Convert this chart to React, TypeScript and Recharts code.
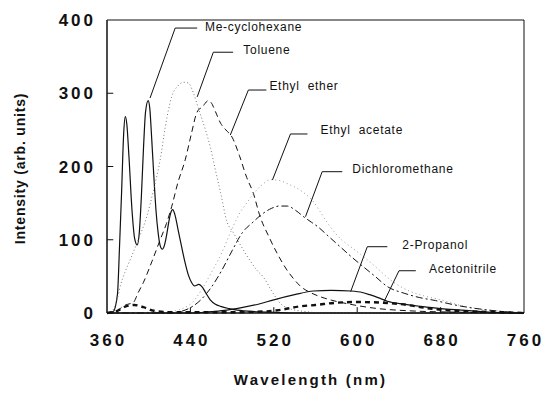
import { LineChart, Line, XAxis, YAxis, ReferenceLine, ReferenceArea, ReferenceDot } from "recharts";

const X_TICKS = [360, 440, 520, 600, 680, 760];
const Y_TICKS = [0, 100, 200, 300, 400];

// [wavelength nm, intensity]
const ME_CYCLOHEXANE: [number, number][] = [
  [360, 0], [366, 2], [370, 25], [372, 90], [374, 165], [376, 245], [377.5, 268], [379, 258],
  [381, 215], [384, 140], [386.5, 102], [389, 93], [391, 110], [393, 160], [395, 225], [397, 275],
  [399.5, 290], [401, 280], [403, 235], [405, 185], [407, 140], [409, 110], [411, 92], [413, 87],
  [415, 92], [417, 105], [419, 122], [421, 136], [423, 141], [425, 135], [428, 115], [431.5, 91],
  [435, 68], [438, 52], [441, 42], [444, 37], [448, 39], [451, 36], [455, 27], [459, 18],
  [464, 12], [469, 9], [477, 6], [485, 4], [500, 2], [520, 1], [540, 0], [760, 0],
];

const TOLUENE: [number, number][] = [
  [360, 0], [365, 3], [370, 20], [373, 38], [377, 55], [382, 72], [390, 100], [398, 131],
  [405, 170], [411, 209], [416, 255], [422, 295], [428, 310], [433, 315], [438, 314], [443, 300],
  [448, 278], [454, 252], [459, 227], [464, 195], [469, 164], [475, 125], [481, 110], [490, 88],
  [497, 72], [504, 58], [510, 49], [518, 30], [525, 15], [535, 6], [550, 2], [570, 0], [760, 0],
];

const ETHYL_ETHER: [number, number][] = [
  [360, 0], [370, 3], [375, 9], [380, 12], [385, 14], [390, 28], [395, 42], [403, 70],
  [411, 100], [417, 122], [422, 145], [428, 178], [435, 209], [441, 245], [446, 273], [449, 279],
  [451, 280], [454, 286], [457, 290], [460, 287], [464, 275], [469, 259], [474, 250], [480, 240],
  [487, 215], [494, 185], [500, 165], [507, 131], [515, 105], [523, 82], [532, 60], [540, 45],
  [546, 36], [555, 28], [565, 22], [574, 18], [593, 12], [620, 6], [650, 3], [700, 1], [760, 0],
];

const ETHYL_ACETATE: [number, number][] = [
  [360, 0], [420, 2], [440, 12], [450, 30], [460, 55], [470, 82], [480, 115], [488, 138],
  [494, 150], [500, 162], [508, 174], [517, 182], [525, 181], [534, 176], [540, 172], [548, 165],
  [558, 152], [566, 135], [574, 118], [585, 100], [596, 88], [606, 77], [620, 60], [632, 45],
  [650, 30], [665, 23], [680, 18], [700, 10], [720, 5], [740, 2], [760, 0],
];

const DICHLOROMETHANE: [number, number][] = [
  [360, 0], [420, 0], [435, 4], [450, 18], [460, 35], [470, 58], [480, 85], [490, 110],
  [500, 124], [507, 133], [518, 143], [525, 146], [533, 146], [541, 140], [549, 131], [556, 124],
  [562, 118], [573, 104], [584, 90], [595, 76], [606, 63], [618, 49], [629, 36], [645, 27],
  [660, 21], [675, 17], [687, 13], [705, 8], [720, 5], [740, 2], [760, 0],
];

const PROPANOL: [number, number][] = [
  [360, 0], [440, 0], [460, 2], [475, 4], [488, 7], [505, 12], [520, 18], [540, 25],
  [558, 30], [575, 31], [594, 30], [605, 28], [612, 25], [620, 21], [629, 16], [645, 12],
  [661, 9], [680, 6], [700, 4], [730, 1], [760, 0],
];

const ACETONITRILE: [number, number][] = [
  [360, 0], [370, 3], [378, 9], [386, 11], [395, 8], [405, 3], [420, 1], [480, 1],
  [510, 2], [525, 4], [545, 9], [560, 11], [580, 14], [600, 15], [625, 14], [648, 11],
  [665, 7], [683, 4], [710, 2], [740, 1], [760, 0],
];

// leader annotations, in data units: elbow x, horizontal end x, y, tip, text position
const LABELS = [
  { text: "Me-cyclohexane", hx1: 425.4, hx2: 446.5, hy: 389, px: 401.3, py: 293.5, tx: 454, ty: 390 },
  { text: "Toluene", hx1: 462, hx2: 481, hy: 356, px: 446.5, py: 295, tx: 490.8, ty: 359 },
  { text: "Ethyl  ether", hx1: 495.6, hx2: 512.9, hy: 304.4, px: 478.3, py: 243, tx: 515.8, ty: 310 },
  { text: "Ethyl  acetate", hx1: 536, hx2: 552.3, hy: 244.4, px: 518.7, py: 181.6, tx: 564.8, ty: 250 },
  { text: "Dichloromethane", hx1: 566.4, hx2: 585.7, hy: 192.9, px: 550.4, py: 131.5, tx: 595.3, ty: 196 },
  { text: "2-Propanol", hx1: 609.7, hx2: 628.9, hy: 90.5, px: 593.7, py: 29.1, tx: 643.3, ty: 92.5 },
  { text: "Acetonitrile", hx1: 640.1, hx2: 656.2, hy: 57.7, px: 625.7, py: 15.4, tx: 668.9, ty: 60.5 },
];

const toPts = (arr: [number, number][]) => arr.map(([x, y]) => ({ x, y }));

const SERIES = [
  { name: "Me-cyclohexane", data: ME_CYCLOHEXANE, color: "#111", width: 1.2, dash: undefined },
  { name: "Toluene", data: TOLUENE, color: "#777", width: 1, dash: "1 2.5" },
  { name: "Ethyl ether", data: ETHYL_ETHER, color: "#111", width: 1, dash: "6 4" },
  { name: "Ethyl acetate", data: ETHYL_ACETATE, color: "#999", width: 1, dash: "1 3" },
  { name: "Dichloromethane", data: DICHLOROMETHANE, color: "#111", width: 1, dash: "7 3 2 3" },
  { name: "2-Propanol", data: PROPANOL, color: "#111", width: 1.2, dash: undefined },
  { name: "Acetonitrile", data: ACETONITRILE, color: "#111", width: 2.4, dash: "5 4" },
];

const FONT = "'Liberation Sans', Arial, sans-serif";

const XTick = (props: any) => (
  <text x={props.x + 1.5} y={props.y + 31} textAnchor="middle" fontFamily={FONT} fontWeight="bold"
    fontSize={17} letterSpacing={3} fill="#111">
    {props.payload.value}
  </text>
);

const YTick = (props: any) => (
  <text x={props.x + 3} y={props.y + 6} textAnchor="end" fontFamily={FONT} fontWeight="bold"
    fontSize={17} letterSpacing={3} fill="#111">
    {props.payload.value}
  </text>
);

export default function App() {
  return (
    <div style={{ position: "absolute", left: 0, top: 0, background: "#fff" }}>
      <LineChart width={544} height={393} margin={{ top: 20, right: 20, bottom: 40, left: 7 }}>
        <XAxis dataKey="x" type="number" domain={[360, 760]} ticks={X_TICKS} tickLine={false}
          tickSize={0} axisLine={{ stroke: "#111" }} tick={<XTick />} height={40}
          label={{
            content: ({ viewBox }: any) => (
              <text x={viewBox.x + viewBox.width / 2 - 5} y={viewBox.y + 72} textAnchor="middle"
                fontFamily={FONT} fontWeight="bold" fontSize={15} letterSpacing={2.2} fill="#111">
                Wavelength  (nm)
              </text>
            ),
          }} />
        <YAxis type="number" domain={[0, 400]} ticks={Y_TICKS} tickLine={false} tickSize={0}
          tickMargin={14} axisLine={{ stroke: "#111" }} tick={<YTick />} width={100}
          label={{
            content: ({ viewBox }: any) => {
              const cx = viewBox.x + 13;
              const cy = viewBox.y + viewBox.height / 2 + 2;
              return (
                <text x={cx} y={cy} transform={`rotate(-90 ${cx} ${cy})`} textAnchor="middle"
                  dominantBaseline="central" fontFamily={FONT} fontWeight="bold" fontSize={14}
                  letterSpacing={0.8} fill="#111">
                  Intensity  (arb.  units)
                </text>
              );
            },
          }} />
        <ReferenceArea x1={360} x2={760} y1={0} y2={400} fill="none" stroke="#111" strokeWidth={1} />
        {X_TICKS.slice(1, -1).map((t) => (
          <ReferenceLine key={"xt" + t} segment={[{ x: t, y: 0 }, { x: t, y: 8 }]} stroke="#111" />
        ))}
        {Y_TICKS.slice(1, -1).map((t) => (
          <ReferenceLine key={"yt" + t} segment={[{ x: 360, y: t }, { x: 366, y: t }]} stroke="#111" />
        ))}
        {SERIES.map((s) => (
          <Line key={s.name} data={toPts(s.data)} dataKey="y" type="monotone" stroke={s.color}
            strokeWidth={s.width} strokeDasharray={s.dash} dot={false} activeDot={false}
            isAnimationActive={false} />
        ))}
        {LABELS.map((l) => (
          <ReferenceLine key={"h" + l.text} segment={[{ x: l.hx1, y: l.hy }, { x: l.hx2, y: l.hy }]}
            stroke="#111" strokeWidth={1} />
        ))}
        {LABELS.map((l) => (
          <ReferenceLine key={"s" + l.text} segment={[{ x: l.hx1, y: l.hy }, { x: l.px, y: l.py }]}
            stroke="#111" strokeWidth={1} />
        ))}
        {LABELS.map((l) => (
          <ReferenceDot key={"t" + l.text} x={l.tx} y={l.ty} r={0}
            shape={(p: any) => (
              <text x={p.cx} y={p.cy} dominantBaseline="central" fontFamily={FONT} fontSize={12}
                letterSpacing={0.7} fill="#111" style={{ whiteSpace: "pre" }}>
                {l.text}
              </text>
            )} />
        ))}
      </LineChart>
    </div>
  );
}
